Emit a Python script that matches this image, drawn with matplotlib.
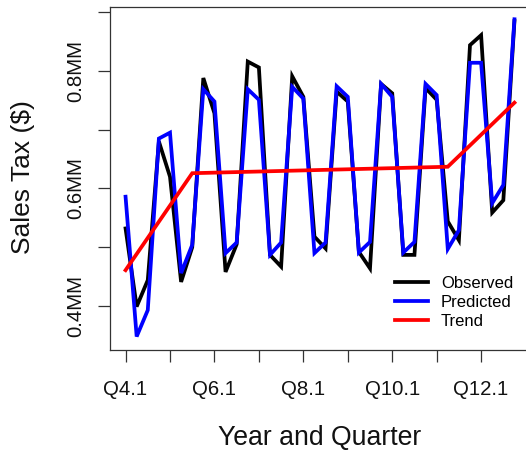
import matplotlib
matplotlib.use("Agg")
import matplotlib.pyplot as plt
import numpy as np

plt.rcParams["font.family"] = ["Liberation Sans", "DejaVu Sans"]

# Quarterly sales tax, in millions of dollars (Q4.1 .. Q12.4)
observed = [0.532, 0.399, 0.444, 0.680, 0.620, 0.441, 0.500, 0.788, 0.728,
            0.458, 0.505, 0.816, 0.806, 0.487, 0.467, 0.791, 0.756, 0.518,
            0.498, 0.765, 0.748, 0.492, 0.464, 0.778, 0.762, 0.487, 0.487,
            0.771, 0.751, 0.544, 0.512, 0.844, 0.861, 0.559, 0.580, 0.885]
predicted = [0.586, 0.348, 0.393, 0.685, 0.695, 0.456, 0.504, 0.769, 0.748,
             0.490, 0.508, 0.769, 0.751, 0.487, 0.508, 0.773, 0.753, 0.490,
             0.508, 0.774, 0.756, 0.491, 0.509, 0.778, 0.756, 0.491, 0.509,
             0.778, 0.759, 0.497, 0.529, 0.814, 0.814, 0.575, 0.606, 0.888]

# Piecewise-linear trend: breakpoints (quarter index) and levels
trend_idx = [0, 6, 29, 35]
trend_val = [0.461, 0.626, 0.637, 0.746]

# Yearly tick marks, labelled every second year
x_tick_labels = ["Q4.1", "", "Q6.1", "", "Q8.1", "", "Q10.1", "", "Q12.1"]
y_tick_values = [0.4, 0.5, 0.6, 0.7, 0.8, 0.9]
y_tick_labels = ["0.4MM", "", "0.6MM", "", "0.8MM", ""]

W, H = 526, 451
fig = plt.figure(figsize=(W / 100, H / 100), dpi=100)
ax = fig.add_axes([110 / W, 1 - 350 / H, 420 / W, 343.3 / H])

t = np.arange(len(observed))
lw = 2.7
ax.plot(t, observed, color="black", lw=lw, label="Observed", solid_joinstyle="miter")
ax.plot(t, predicted, color="#0000FF", lw=lw, label="Predicted", solid_joinstyle="miter")
ax.plot(trend_idx, trend_val, color="#FF0000", lw=lw, label="Trend", solid_joinstyle="miter")

ax.set_xlim(-1.4, 36.4)
ax.set_ylim(0.3251, 0.9094)

ax.set_xticks(np.arange(0, len(observed), 4))
ax.set_xticklabels(x_tick_labels)
ax.set_yticks(y_tick_values)
ax.set_yticklabels(y_tick_labels, rotation=90, va="center")

spine_col = "#333333"
for side in ["left", "bottom", "top", "right"]:
    ax.spines[side].set_color(spine_col)
    ax.spines[side].set_linewidth(0.9)

ax.tick_params(axis="both", length=8.8, width=0.9, color=spine_col,
               labelsize=14.7, labelcolor="#111111")
ax.tick_params(axis="x", pad=13)
ax.tick_params(axis="y", pad=9)

ax.set_xlabel("Year and Quarter", fontsize=19.2, color="#111111", va="baseline")
ax.xaxis.set_label_coords(0.5, (350 - 445) / 343.3)
ax.set_ylabel("Sales Tax ($)", fontsize=19, color="#111111", va="center")
ax.yaxis.set_label_coords((23 - 110) / 420, (350 - 177) / 343.3)

leg = ax.legend(loc="upper left", bbox_to_anchor=(395 / W, 1 - 276 / H),
                bbox_transform=fig.transFigure, frameon=False, fontsize=12,
                handlelength=2.0, handletextpad=0.75, labelspacing=0.24,
                borderpad=0, borderaxespad=0)

fig.savefig("out.png", dpi=100)
